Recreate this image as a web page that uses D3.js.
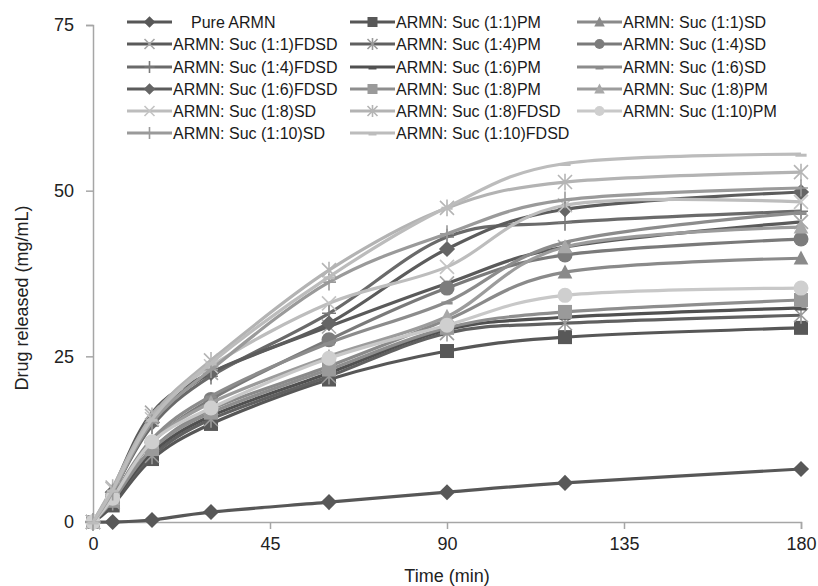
<!DOCTYPE html>
<html>
<head>
<meta charset="utf-8">
<script src="https://cdn.jsdelivr.net/npm/d3@7"></script>
<style>
  body { margin: 0; background: #fff; }
  svg { display: block; font-family: "Liberation Sans", Arial, sans-serif; }
</style>
</head>
<body>
<svg id="chart" width="818" height="586"></svg>
<script>
// Sampling times (min)
const times = [0, 5, 15, 30, 60, 90, 120, 180];

// Series names, in legend order
const seriesNames = [
  "Pure ARMN", "ARMN: Suc (1:1)PM", "ARMN: Suc (1:1)SD",
  "ARMN: Suc (1:1)FDSD", "ARMN: Suc (1:4)PM", "ARMN: Suc (1:4)SD",
  "ARMN: Suc (1:4)FDSD", "ARMN: Suc (1:6)PM", "ARMN: Suc (1:6)SD",
  "ARMN: Suc (1:6)FDSD", "ARMN: Suc (1:8)PM", "ARMN: Suc (1:8)PM",
  "ARMN: Suc (1:8)SD", "ARMN: Suc (1:8)FDSD", "ARMN: Suc (1:10)PM",
  "ARMN: Suc (1:10)SD", "ARMN: Suc (1:10)FDSD"
];

// Drug released (mg/mL) at each sampling time
const pureARMN   = [0, 0, 0.3, 1.5, 3.0, 4.5, 5.9, 8.0];
const suc11PM    = [0, 2.5, 9.5, 14.8, 21.5, 25.8, 27.9, 29.3];
const suc11SD    = [0, 3.5, 11, 17, 23.5, 30.5, 37.7, 39.8];
const suc11FDSD  = [0, 5, 16.5, 22.5, 29.5, 36, 41.5, 45.3];
const suc14PM    = [0, 3, 10, 15.5, 22, 28.5, 30, 31.2];
const suc14SD    = [0, 3.8, 12, 18.5, 27.5, 35.3, 40.3, 42.7];
const suc14FDSD  = [0, 4.5, 14.5, 22, 31.5, 43, 45.2, 46.9];
const suc16PM    = [0, 3, 10.5, 16, 22.5, 29, 30.9, 32.3];
const suc16SD    = [0, 3.8, 12.5, 19, 27, 33.2, 42.2, 46.7];
const suc16FDSD  = [0, 4.5, 15, 22.5, 30, 41.2, 47.2, 49.8];
const suc18PMa   = [0, 3.2, 11, 16.5, 23, 29.3, 31.7, 33.5];
const suc18PMb   = [0, 3.5, 12, 18, 25, 31, 41.5, 44.5];
const suc18SD    = [0, 5, 15.5, 23.5, 33, 38.5, 47.8, 48.3];
const suc18FDSD  = [0, 5.2, 16, 24.4, 38, 47.4, 51.3, 52.8];
const suc110PM   = [0, 3.6, 12.1, 17.2, 24.7, 29.7, 34.2, 35.3];
const suc110SD   = [0, 4.5, 15, 23, 36.2, 43.5, 48.6, 50.4];
const suc110FDSD = [0, 4.8, 15.5, 24, 37, 47.5, 54.1, 55.5];

const seriesValues = [
  pureARMN, suc11PM, suc11SD, suc11FDSD, suc14PM, suc14SD, suc14FDSD,
  suc16PM, suc16SD, suc16FDSD, suc18PMa, suc18PMb, suc18SD, suc18FDSD,
  suc110PM, suc110SD, suc110FDSD
];

// Axis ticks
const xTicks = [0, 45, 90, 135, 180];
const yTicks = [0, 25, 50, 75];

// Line colour, marker shape and marker colour per series
const lineColors = ["#575757", "#575757", "#8a8a8a", "#5a5a5a", "#606060", "#7a7a7a",
  "#6a6a6a", "#505050", "#8c8c8c", "#5c5c5c", "#8e8e8e", "#9c9c9c",
  "#bdbdbd", "#b3b3b3", "#c8c8c8", "#9a9a9a", "#bcbcbc"];
const markerShapes = ["diamond", "square", "triangle", "x", "star", "circle",
  "plus", "dash", "dash", "diamond", "square", "triangle",
  "x", "star", "circle", "plus", "dash"];
const markerColors = ["#585858", "#585858", "#8a8a8a", "#a8a8a8", "#9a9a9a", "#7c7c7c",
  "#7a7a7a", "#505050", "#8c8c8c", "#656565", "#9a9a9a", "#a8a8a8",
  "#c4c4c4", "#b5b5b5", "#cfcfcf", "#9a9a9a", "#bcbcbc"];

const svg = d3.select("#chart");
const margin = { left: 93, right: 17, top: 25, bottom: 64 };
const W = 818, H = 586;

const x = d3.scaleLinear().domain([0, 180]).range([margin.left, W - margin.right]);
const y = d3.scaleLinear().domain([0, 75]).range([H - margin.bottom, margin.top]);

// Axes
const axisColor = "#a6a6a6";
const xAxis = svg.append("g")
  .attr("transform", `translate(0,${y(0)})`)
  .call(d3.axisBottom(x).tickValues(xTicks).tickSize(7).tickPadding(8));
const yAxis = svg.append("g")
  .attr("transform", `translate(${x(0)},0)`)
  .call(d3.axisLeft(y).tickValues(yTicks).tickSize(7).tickPadding(12));
[xAxis, yAxis].forEach(g => {
  g.select(".domain").attr("stroke", axisColor).attr("stroke-width", 1.5);
  g.selectAll(".tick line").attr("stroke", axisColor).attr("stroke-width", 1.5);
  g.selectAll(".tick text").attr("fill", "#222").style("font-size", "18px")
    .style("font-family", "'Liberation Sans', Arial, sans-serif");
});

// Axis titles
svg.append("text")
  .attr("x", x(90)).attr("y", 582)
  .attr("text-anchor", "middle").attr("fill", "#222")
  .style("font-size", "18px").text("Time (min)");
svg.append("text")
  .attr("transform", "translate(28,298) rotate(-90)")
  .attr("text-anchor", "middle").attr("fill", "#222")
  .style("font-size", "18px").text("Drug released (mg/mL)");

// Marker drawing
function drawMarker(g, shape, cx, cy, fill, s) {
  const h = s / 2;
  if (shape === "diamond") {
    g.append("path").attr("d", `M${cx},${cy - h * 1.15}L${cx + h * 1.15},${cy}L${cx},${cy + h * 1.15}L${cx - h * 1.15},${cy}Z`).attr("fill", fill);
  } else if (shape === "square") {
    g.append("rect").attr("x", cx - h).attr("y", cy - h).attr("width", s).attr("height", s).attr("fill", fill);
  } else if (shape === "triangle") {
    g.append("path").attr("d", `M${cx},${cy - h * 1.1}L${cx + h * 1.05},${cy + h * 0.9}L${cx - h * 1.05},${cy + h * 0.9}Z`).attr("fill", fill);
  } else if (shape === "circle") {
    g.append("circle").attr("cx", cx).attr("cy", cy).attr("r", h).attr("fill", fill);
  } else if (shape === "x") {
    g.append("path").attr("d", `M${cx - h},${cy - h}L${cx + h},${cy + h}M${cx - h},${cy + h}L${cx + h},${cy - h}`)
      .attr("stroke", fill).attr("stroke-width", 1.6).attr("fill", "none");
  } else if (shape === "star") {
    g.append("path").attr("d", `M${cx - h},${cy - h}L${cx + h},${cy + h}M${cx - h},${cy + h}L${cx + h},${cy - h}M${cx},${cy - h * 1.2}L${cx},${cy + h * 1.2}`)
      .attr("stroke", fill).attr("stroke-width", 1.6).attr("fill", "none");
  } else if (shape === "plus") {
    g.append("path").attr("d", `M${cx},${cy - h * 1.2}L${cx},${cy + h * 1.2}M${cx - h},${cy}L${cx + h},${cy}`)
      .attr("stroke", fill).attr("stroke-width", 1.6).attr("fill", "none");
  } else if (shape === "dash") {
    g.append("path").attr("d", `M${cx - h * 0.8},${cy + 1}L${cx + h * 0.8},${cy + 1}`)
      .attr("stroke", fill).attr("stroke-width", 3).attr("fill", "none");
  }
}

// Series lines and markers (later series drawn on top)
const line = d3.line()
  .x((d, i) => x(times[i]))
  .y(d => y(d))
  .curve(d3.curveCardinal.tension(0));

const plot = svg.append("g");
seriesValues.forEach((vals, si) => {
  const g = plot.append("g");
  g.append("path").datum(vals).attr("d", line)
    .attr("fill", "none").attr("stroke", lineColors[si])
    .attr("stroke-width", 3.2).attr("stroke-linejoin", "round");
  vals.forEach((v, i) => {
    drawMarker(g, markerShapes[si], x(times[i]), y(v), markerColors[si], markerShapes[si] === "circle" ? 15 : 14);
  });
});

// Legend: 3 columns x 6 rows
const legendCols = [127, 350, 577];
const legendRows = [22, 44, 67, 89, 111, 133];
const legend = svg.append("g");
seriesNames.forEach((name, i) => {
  const cx = legendCols[i % 3], cy = legendRows[Math.floor(i / 3)];
  const g = legend.append("g");
  g.append("line").attr("x1", cx).attr("x2", cx + 45).attr("y1", cy).attr("y2", cy)
    .attr("stroke", lineColors[i]).attr("stroke-width", 3);
  drawMarker(g, markerShapes[i], cx + 22.5, cy, markerColors[i], 10);
  g.append("text")
    .attr("x", i === 0 ? cx + 64 : cx + 46)
    .attr("y", cy + 6)
    .attr("fill", "#1a1a1a")
    .style("font-size", "16px")
    .text(name);
});
</script>
</body>
</html>
